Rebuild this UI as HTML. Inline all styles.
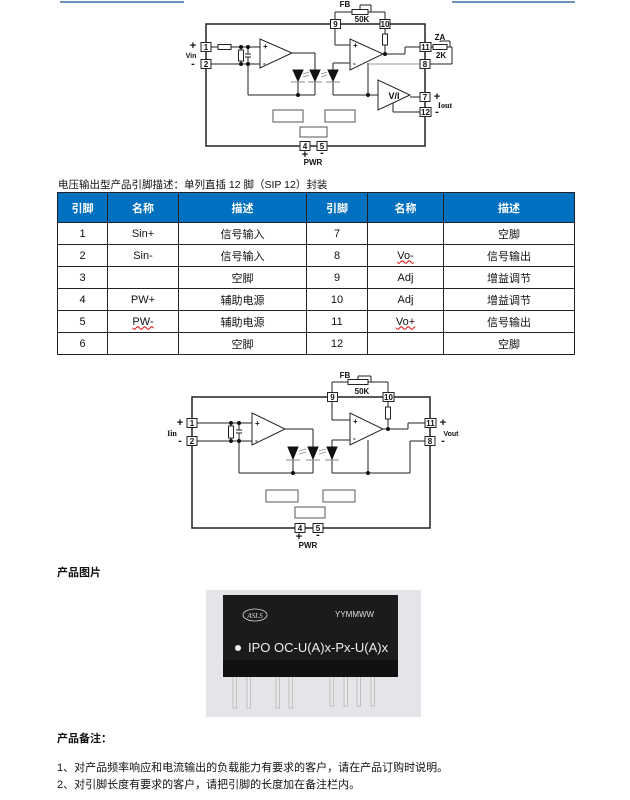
<!DOCTYPE html>
<html><head><meta charset="utf-8"><style>
body{margin:0;background:#fff;width:630px;height:800px;overflow:hidden;position:relative;font-family:"Liberation Sans","Noto Sans CJK SC",sans-serif;}
.t{position:absolute;font-size:11px;color:#111;white-space:nowrap}
table{position:absolute;left:57px;top:192px;border-collapse:collapse;font-size:11px;color:#111}
td,th{border:1px solid #222;text-align:center;padding:0;height:21px}
th{background:#0070c0;color:#fff;font-weight:bold;height:29px;border-color:#222}
.w{text-decoration:underline wavy #d00;text-decoration-thickness:1px}
</style></head><body>
<svg width="630" height="800" style="position:absolute;left:0;top:0" font-family="Liberation Sans, sans-serif" font-weight="bold">
<line x1="60" y1="2" x2="575" y2="2" stroke="#3b6ea8" stroke-width="1.5"/>
<rect x="184" y="0" width="268" height="8" fill="#fff"/>
<g stroke="#222" stroke-width="1" fill="none">
<!-- top diagram -->
<rect x="206" y="24" width="219" height="122" stroke-width="1.5"/>
<line x1="211" y1="47" x2="218" y2="47"/><rect x="218" y="44.5" width="13" height="5"/>
<line x1="231" y1="47" x2="260" y2="47"/><line x1="211" y1="64" x2="260" y2="64"/>
<rect x="238.5" y="50" width="5" height="11"/><line x1="241" y1="47" x2="241" y2="50"/><line x1="241" y1="61" x2="241" y2="64"/>
<line x1="248" y1="47" x2="248" y2="54"/><line x1="245" y1="54" x2="251" y2="54"/><line x1="245" y1="57" x2="251" y2="57"/><line x1="248" y1="57" x2="248" y2="95"/>
<polygon points="260,39 260,68 292,53" fill="#fff"/>
<line x1="292" y1="53" x2="315" y2="53"/><line x1="315" y1="53" x2="315" y2="95"/>
<line x1="248" y1="95" x2="315" y2="95"/><line x1="298" y1="70" x2="298" y2="95"/>
<line x1="298" y1="70" x2="298" y2="70"/>
<line x1="333" y1="70" x2="333" y2="95"/><line x1="333" y1="63" x2="350" y2="63"/><line x1="333" y1="63" x2="333" y2="70"/>
<line x1="333" y1="95" x2="378" y2="95"/><line x1="368" y1="63" x2="368" y2="95"/>
<line x1="368" y1="64" x2="420" y2="64" stroke="#999"/>
<polygon points="350,39 350,70 383,54" fill="#fff"/>
<line x1="335" y1="29" x2="335" y2="45"/><line x1="335" y1="45" x2="350" y2="45"/>
<line x1="385" y1="29" x2="385" y2="34"/><rect x="382.5" y="34" width="5" height="11"/><line x1="385" y1="45" x2="385" y2="54"/>
<line x1="383" y1="54" x2="405" y2="54"/><line x1="405" y1="54" x2="405" y2="47"/><line x1="405" y1="47" x2="420" y2="47"/>
<polygon points="378,80 378,110 410,95" fill="#fff"/>
<line x1="410" y1="97" x2="420" y2="97"/><line x1="393" y1="103" x2="393" y2="112"/><line x1="393" y1="112" x2="420" y2="112"/>
<line x1="335" y1="20" x2="335" y2="12"/><line x1="335" y1="12" x2="352" y2="12"/><rect x="352" y="9.5" width="16" height="5"/><line x1="368" y1="12" x2="385" y2="12"/><line x1="385" y1="12" x2="385" y2="20"/>
<line x1="360" y1="9" x2="360" y2="5"/><line x1="360" y1="5" x2="371" y2="5"/><line x1="371" y1="5" x2="371" y2="12"/>
<line x1="430" y1="47" x2="433" y2="47"/><rect x="433" y="44.5" width="14" height="5"/><line x1="447" y1="47" x2="452" y2="47"/><line x1="452" y1="47" x2="452" y2="64"/><line x1="430" y1="64" x2="452" y2="64"/><line x1="440" y1="42" x2="440" y2="41"/><line x1="440" y1="41" x2="450" y2="41"/><line x1="450" y1="41" x2="450" y2="47"/>
<rect x="273" y="110" width="30" height="12" stroke="#555"/><rect x="325" y="110" width="30" height="12" stroke="#555"/><rect x="300" y="127" width="27" height="10" stroke="#555"/>
<!-- second diagram -->
<rect x="192" y="397" width="238" height="131" stroke-width="1.5"/>
<line x1="197" y1="423" x2="252" y2="423"/><line x1="197" y1="441" x2="252" y2="441"/>
<rect x="228.5" y="426" width="5" height="12"/><line x1="231" y1="423" x2="231" y2="426"/><line x1="231" y1="438" x2="231" y2="441"/>
<line x1="239" y1="423" x2="239" y2="430"/><line x1="236" y1="430" x2="242" y2="430"/><line x1="236" y1="433" x2="242" y2="433"/><line x1="239" y1="433" x2="239" y2="473"/>
<polygon points="252,413 252,445 285,429" fill="#fff"/>
<line x1="285" y1="429" x2="313" y2="429"/><line x1="313" y1="429" x2="313" y2="473"/>
<line x1="239" y1="473" x2="313" y2="473"/><line x1="293" y1="447" x2="293" y2="473"/>
<line x1="332" y1="440" x2="350" y2="440"/><line x1="332" y1="440" x2="332" y2="473"/>
<line x1="332" y1="473" x2="410" y2="473"/><line x1="368" y1="440" x2="368" y2="473"/>
<line x1="410" y1="473" x2="410" y2="441"/><line x1="410" y1="441" x2="425" y2="441"/>
<polygon points="350,413 350,445 383,429" fill="#fff"/>
<line x1="332" y1="402" x2="332" y2="420"/><line x1="332" y1="420" x2="350" y2="420"/>
<line x1="388" y1="402" x2="388" y2="407"/><rect x="385.5" y="407" width="5" height="12"/><line x1="388" y1="419" x2="388" y2="429"/>
<line x1="383" y1="429" x2="408" y2="429"/><line x1="408" y1="429" x2="408" y2="423"/><line x1="408" y1="423" x2="425" y2="423"/>
<line x1="332" y1="392" x2="332" y2="382"/><line x1="332" y1="382" x2="348" y2="382"/><rect x="348" y="379.5" width="20" height="5"/><line x1="368" y1="382" x2="388" y2="382"/><line x1="388" y1="382" x2="388" y2="392"/>
<line x1="358" y1="379" x2="358" y2="376"/><line x1="358" y1="376" x2="371" y2="376"/><line x1="371" y1="376" x2="371" y2="382"/>
<rect x="266" y="490" width="32" height="12" stroke="#555"/><rect x="323" y="490" width="32" height="12" stroke="#555"/><rect x="295" y="507" width="30" height="11" stroke="#555"/>
</g>
<!-- diodes -->
<g fill="#111" stroke="#111" stroke-width="1">
<polygon points="293,70 303,70 298,81"/><line x1="291" y1="82" x2="305" y2="82" stroke="#888"/>
<polygon points="310,70 320,70 315,81"/><line x1="308" y1="82" x2="322" y2="82" stroke="#888"/>
<polygon points="328,70 338,70 333,81"/><line x1="326" y1="82" x2="340" y2="82" stroke="#888"/>
<polygon points="288,447 298,447 293,459"/><line x1="286" y1="460" x2="300" y2="460" stroke="#888"/>
<polygon points="308,447 318,447 313,459"/><line x1="306" y1="460" x2="320" y2="460" stroke="#888"/>
<polygon points="327,447 337,447 332,459"/><line x1="325" y1="460" x2="339" y2="460" stroke="#888"/>
<circle cx="241" cy="47" r="1.5"/><circle cx="248" cy="47" r="1.5"/><circle cx="241" cy="64" r="1.5"/><circle cx="248" cy="64" r="1.5"/>
<circle cx="298" cy="95" r="1.5"/><circle cx="368" cy="95" r="1.5"/><circle cx="385" cy="54" r="1.5"/>
<circle cx="231" cy="423" r="1.5"/><circle cx="239" cy="423" r="1.5"/><circle cx="231" cy="441" r="1.5"/><circle cx="239" cy="441" r="1.5"/>
<circle cx="293" cy="473" r="1.5"/><circle cx="368" cy="473" r="1.5"/><circle cx="388" cy="429" r="1.5"/>
</g>
<g stroke="#888" stroke-width="0.8"><line x1="303" y1="74" x2="309" y2="72"/><line x1="303" y1="77" x2="309" y2="75"/><line x1="321" y1="74" x2="327" y2="72"/><line x1="321" y1="77" x2="327" y2="75"/>
<line x1="299" y1="451" x2="306" y2="449"/><line x1="299" y1="454" x2="306" y2="452"/><line x1="319" y1="451" x2="326" y2="449"/><line x1="319" y1="454" x2="326" y2="452"/></g>
<!-- pin boxes -->
<g fill="#fff" stroke="#222" stroke-width="1">
<rect x="201" y="42.5" width="10" height="9"/><rect x="201" y="59.5" width="10" height="9"/>
<rect x="330.5" y="19.5" width="10" height="9"/><rect x="380" y="19.5" width="10" height="9"/>
<rect x="420" y="42.5" width="11" height="9"/><rect x="420" y="59.5" width="10" height="9"/>
<rect x="420" y="92.5" width="10" height="9"/><rect x="420" y="107.5" width="11" height="9"/>
<rect x="300" y="141.5" width="10" height="9"/><rect x="317" y="141.5" width="10" height="9"/>
<rect x="187" y="418.5" width="10" height="9"/><rect x="187" y="436.5" width="10" height="9"/>
<rect x="327.5" y="392.5" width="10" height="9"/><rect x="383" y="392.5" width="11" height="9"/>
<rect x="425" y="418.5" width="11" height="9"/><rect x="425" y="436.5" width="10" height="9"/>
<rect x="295" y="523.5" width="10" height="9"/><rect x="313" y="523.5" width="10" height="9"/>
</g>
<g font-size="8" fill="#111" text-anchor="middle">
<text x="206" y="50">1</text><text x="206" y="67">2</text><text x="335.5" y="27">9</text><text x="385" y="27">10</text>
<text x="425.5" y="50">11</text><text x="425" y="67">8</text><text x="425" y="100">7</text><text x="425.5" y="115">12</text>
<text x="305" y="149">4</text><text x="322" y="149">5</text>
<text x="345" y="7">FB</text><text x="362" y="22">50K</text><text x="440" y="40">ZA</text><text x="441" y="58">2K</text>
<text x="313" y="165">PWR</text><text x="191" y="58" font-size="7">Vin</text>
<text x="193" y="49" font-size="11">+</text><text x="193" y="67" font-size="11">-</text>
<text x="437" y="100" font-size="11">+</text><text x="437" y="115" font-size="11">-</text>
<text x="445" y="108" font-family="Liberation Serif" font-size="8">Iout</text>
<text x="305" y="158" font-size="11">+</text><text x="322" y="156" font-size="11">-</text>
<text x="394" y="99" font-size="9">V/I</text>
<text x="192" y="426">1</text><text x="192" y="444">2</text><text x="332.5" y="400">9</text><text x="388.5" y="400">10</text>
<text x="430.5" y="426">11</text><text x="430" y="444">8</text><text x="300" y="531">4</text><text x="318" y="531">5</text>
<text x="345" y="378">FB</text><text x="362" y="394">50K</text><text x="308" y="548">PWR</text>
<text x="180" y="426" font-size="11">+</text><text x="180" y="444" font-size="11">-</text>
<text x="443" y="426" font-size="11">+</text><text x="443" y="444" font-size="11">-</text>
<text x="451" y="436" font-size="7">Vout</text><text x="172" y="436" font-family="Liberation Serif" font-size="8">Iin</text>
<text x="299" y="540" font-size="11">+</text><text x="318" y="538" font-size="11">-</text>
</g>
<g font-size="8" fill="#111"><text x="263" y="49">+</text><text x="263" y="66">-</text><text x="353" y="48">+</text><text x="353" y="66">-</text>
<text x="255" y="426">+</text><text x="255" y="443">-</text><text x="353" y="424">+</text><text x="353" y="441">-</text></g>
<!-- photo -->
<rect x="206" y="590" width="215" height="127" fill="#e4e5e9"/>
<g fill="#e8e8e8" stroke="#999" stroke-width="0.5">
<rect x="233" y="675" width="3.5" height="33"/><rect x="247" y="675" width="3.5" height="33"/><rect x="276" y="675" width="3.5" height="33"/><rect x="289" y="675" width="3.5" height="33"/>
<rect x="330" y="675" width="3.5" height="31"/><rect x="344" y="675" width="3.5" height="31"/><rect x="357" y="675" width="3.5" height="31"/><rect x="371" y="675" width="3.5" height="31"/>
</g>
<rect x="223" y="595" width="175" height="82" fill="#1b1b1b"/>
<rect x="223" y="660" width="175" height="17" fill="#111"/>
<ellipse cx="255" cy="615" rx="12" ry="6" fill="none" stroke="#ddd" stroke-width="0.8"/>
<text x="255" y="618" font-size="7" fill="#ddd" text-anchor="middle" font-family="Liberation Serif" font-style="italic" font-weight="normal">ASLS</text>
<text x="335" y="617" font-size="8" fill="#ddd" font-weight="normal">YYMMWW</text>
<circle cx="238" cy="648" r="3" fill="#eee"/>
<text x="248" y="652" font-size="13" fill="#eee" font-weight="normal">IPO OC-U(A)x-Px-U(A)x</text>
</svg>
<div class="t" style="left:58px;top:177px;font-size:10.5px">电压输出型产品引脚描述：单列直插 12 脚（SIP 12）封装</div>
<table>
<tr><th style="width:49px">引脚</th><th style="width:70px">名称</th><th style="width:127px">描述</th><th style="width:60px">引脚</th><th style="width:75px">名称</th><th style="width:130px">描述</th></tr>
<tr><td>1</td><td>Sin+</td><td>信号输入</td><td>7</td><td></td><td>空脚</td></tr>
<tr><td>2</td><td>Sin-</td><td>信号输入</td><td>8</td><td><span class="w">Vo-</span></td><td>信号输出</td></tr>
<tr><td>3</td><td></td><td>空脚</td><td>9</td><td>Adj</td><td>增益调节</td></tr>
<tr><td>4</td><td>PW+</td><td>辅助电源</td><td>10</td><td>Adj</td><td>增益调节</td></tr>
<tr><td>5</td><td><span class="w">PW-</span></td><td>辅助电源</td><td>11</td><td><span class="w">Vo+</span></td><td>信号输出</td></tr>
<tr><td>6</td><td></td><td>空脚</td><td>12</td><td></td><td>空脚</td></tr>
</table>
<div class="t" style="left:57px;top:564px;font-weight:bold">产品图片</div>
<div class="t" style="left:57px;top:730px;font-weight:bold">产品备注：</div>
<div class="t" style="left:57px;top:759px">1、对产品频率响应和电流输出的负载能力有要求的客户，请在产品订购时说明。</div>
<div class="t" style="left:57px;top:776px">2、对引脚长度有要求的客户，请把引脚的长度加在备注栏内。</div>
</body></html>
